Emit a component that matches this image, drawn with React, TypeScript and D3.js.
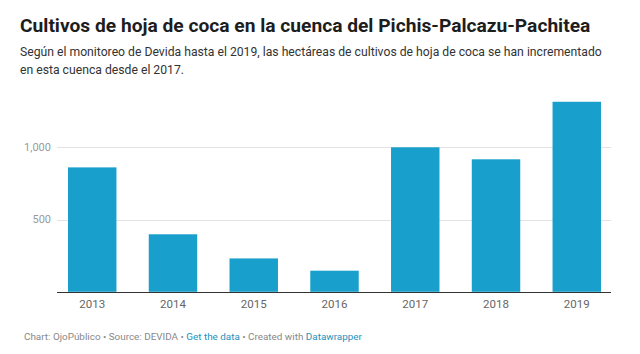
import React, { useEffect, useRef } from 'react';
import * as d3 from 'd3';

const years = ['2013', '2014', '2015', '2016', '2017', '2018', '2019'];
const hectares = [861, 398, 231, 146, 1000, 917, 1315];
const yTicks = [500, 1000];

const title = 'Cultivos de hoja de coca en la cuenca del Pichis-Palcazu-Pachitea';
const subtitleLines = [
  'Según el monitoreo de Devida hasta el 2019, las hectáreas de cultivos de hoja de coca se han incrementado',
  'en esta cuenca desde el 2017.',
];

const App: React.FC = () => {
  const svgRef = useRef<SVGSVGElement>(null);

  useEffect(() => {
    if (!svgRef.current) return;
    document.body.style.margin = '0';
    const svg = d3.select(svgRef.current);
    svg.selectAll('*').remove();

    const width = 640;
    const height = 354;
    const font = 'Roboto, "Noto Sans", sans-serif';

    svg.attr('width', width).attr('height', height).style('display', 'block')
      .style('background', '#fff');

    // header
    svg.append('text')
      .attr('x', 20).attr('y', 31.5)
      .style('font-family', font).style('font-size', '19.2px').style('font-weight', 'bold')
      .style('fill', '#1d1d1d')
      .text(title);

    subtitleLines.forEach((line, i) => {
      svg.append('text')
        .attr('x', 20).attr('y', 56 + i * 17.5)
        .style('font-family', font).style('font-size', '12.2px')
        .style('fill', '#333')
        .text(line);
    });

    // scales
    const x = d3.scaleBand<string>()
      .domain(years)
      .range([68, 601])
      .paddingInner(0.4)
      .paddingOuter(0);

    const y = d3.scaleLinear()
      .domain([0, 1000])
      .range([291.8, 147.3]);

    const plotLeft = 57;
    const plotRight = 611;

    // grid
    const grid = svg.append('g');
    yTicks.forEach(t => {
      grid.append('line')
        .attr('x1', plotLeft).attr('x2', plotRight)
        .attr('y1', Math.round(y(t)) + 0.5).attr('y2', Math.round(y(t)) + 0.5)
        .attr('stroke', '#e3e3e3').attr('stroke-width', 1);
      grid.append('text')
        .attr('x', 51).attr('y', y(t))
        .attr('dy', '0.35em')
        .attr('text-anchor', 'end')
        .style('font-family', font).style('font-size', '11px')
        .style('fill', '#9a9a9a')
        .text(d3.format(',')(t));
    });

    // bars
    svg.append('g')
      .selectAll('rect')
      .data(hectares)
      .enter()
      .append('rect')
      .attr('x', (_, i) => x(years[i]) || 0)
      .attr('width', x.bandwidth())
      .attr('y', d => y(d))
      .attr('height', d => y(0) - y(d))
      .attr('fill', '#199fcb');

    // baseline
    svg.append('line')
      .attr('x1', plotLeft).attr('x2', plotRight)
      .attr('y1', 292.5).attr('y2', 292.5)
      .attr('stroke', '#333').attr('stroke-width', 1);

    // x labels
    svg.append('g')
      .selectAll('text')
      .data(years)
      .enter()
      .append('text')
      .attr('x', d => (x(d) || 0) + x.bandwidth() / 2)
      .attr('y', 308)
      .attr('text-anchor', 'middle')
      .style('font-family', font).style('font-size', '11.5px')
      .style('fill', '#666')
      .text(d => d);

    // footer
    const footer = svg.append('text')
      .attr('x', 24).attr('y', 340)
      .style('font-family', font).style('font-size', '9.9px')
      .style('fill', '#888');
    footer.append('tspan').text('Chart: OjoPúblico • Source: DEVIDA • ');
    footer.append('tspan').style('fill', '#1d91bb').text('Get the data');
    footer.append('tspan').text(' • Created with ');
    footer.append('tspan').style('fill', '#1d91bb').text('Datawrapper');
  }, []);

  return <svg ref={svgRef}></svg>;
};

export default App;
